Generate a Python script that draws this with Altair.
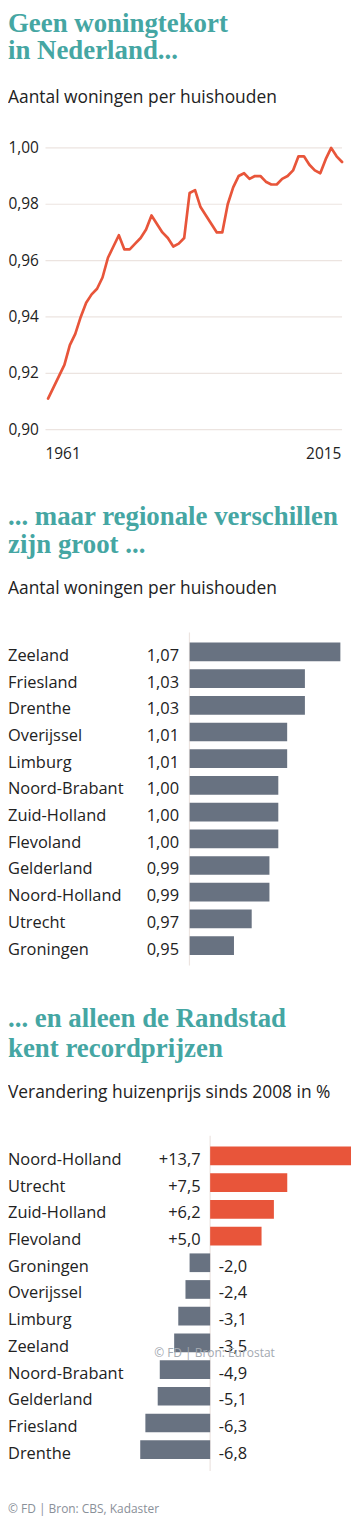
import altair as alt
import pandas as pd

# ---------------- data ----------------
years = list(range(1961, 2016))
ratio = [0.911, 0.915, 0.919, 0.923, 0.930, 0.934, 0.940, 0.945, 0.948, 0.950,
         0.954, 0.961, 0.965, 0.969, 0.964, 0.964, 0.966, 0.968, 0.971, 0.976,
         0.973, 0.970, 0.968, 0.965, 0.966, 0.968, 0.984, 0.985, 0.979, 0.976,
         0.973, 0.970, 0.970, 0.980, 0.986, 0.990, 0.991, 0.989, 0.990, 0.990,
         0.988, 0.987, 0.987, 0.989, 0.990, 0.992, 0.997, 0.997, 0.994, 0.992,
         0.991, 0.996, 1.000, 0.997, 0.995]
y_ticks = [0.90, 0.92, 0.94, 0.96, 0.98, 1.00]
x_tick_first = [1961]
x_tick_last = [2015]

prov1 = ["Zeeland", "Friesland", "Drenthe", "Overijssel", "Limburg", "Noord-Brabant",
         "Zuid-Holland", "Flevoland", "Gelderland", "Noord-Holland", "Utrecht", "Groningen"]
val1 = [1.07, 1.03, 1.03, 1.01, 1.01, 1.00, 1.00, 1.00, 0.99, 0.99, 0.97, 0.95]

prov2 = ["Noord-Holland", "Utrecht", "Zuid-Holland", "Flevoland", "Groningen", "Overijssel",
         "Limburg", "Zeeland", "Noord-Brabant", "Gelderland", "Friesland", "Drenthe"]
val2 = [13.7, 7.5, 6.2, 5.0, -2.0, -2.4, -3.1, -3.5, -4.9, -5.1, -6.3, -6.8]

title1 = ["Geen woningtekort", "in Nederland..."]
title2 = ["... maar regionale verschillen", "zijn groot ..."]
title3 = ["... en alleen de Randstad", "kent recordprijzen"]
sub1 = "Aantal woningen per huishouden"
sub2 = "Aantal woningen per huishouden"
sub3 = "Verandering huizenprijs sinds 2008 in %"
note3 = "© FD | Bron: Eurostat"
footer = "© FD | Bron: CBS, Kadaster"

# ---------------- styles ----------------
W, H = 346, 1511
TEAL = "#45a6a3"
ORANGE = "#e8553a"
SLATE = "#687281"
GRID = "#ece4e0"
INK = "#222222"
SANS = "Open Sans"
SERIF = "Liberation Serif"
LBL = 16.5


def text_layer(txt, x, y, size, font=SANS, weight="normal", color=INK,
               align="left", baseline="alphabetic"):
    return alt.Chart(pd.DataFrame({"t": [txt]})).mark_text(
        font=font, fontSize=size, fontWeight=weight, color=color,
        align=align, baseline=baseline
    ).encode(text="t:N", x=alt.value(x), y=alt.value(y))


def title_layers(lines, y1, y2, ysub, sub):
    return [
        text_layer(lines[0], 0, y1, 27, font=SERIF, weight="bold", color=TEAL),
        text_layer(lines[1], 0, y2, 27, font=SERIF, weight="bold", color=TEAL),
        text_layer(sub, 0, ysub, 17.5),
    ]


# ---------------- section 1: line ----------------
xs = alt.Scale(domain=[1961, 2015], range=[40.3, 336], zero=False, nice=False)
ys = alt.Scale(domain=[0.90, 1.00], range=[419.7, 136.3], zero=False, nice=False)

tick_df = pd.DataFrame({"v": y_ticks})
grid = alt.Chart(tick_df).mark_rule(color=GRID, strokeWidth=1.2).encode(
    y=alt.Y("v:Q", scale=ys, axis=None), x=alt.value(37.7), x2=alt.value(336))
ylab = alt.Chart(tick_df).transform_calculate(
    lab="replace(format(datum.v, '.2f'), '.', ',')"
).mark_text(align="right", baseline="middle", font=SANS, fontSize=15.5, color=INK).encode(
    y=alt.Y("v:Q", scale=ys, axis=None), x=alt.value(31), text="lab:N")
line = alt.Chart(pd.DataFrame({"year": years, "ratio": ratio})).mark_line(
    color=ORANGE, strokeWidth=2.7, strokeJoin="round", strokeCap="round"
).encode(x=alt.X("year:Q", scale=xs, axis=None), y=alt.Y("ratio:Q", scale=ys, axis=None))
xl1 = alt.Chart(pd.DataFrame({"yr": x_tick_first})).mark_text(
    align="left", baseline="middle", font=SANS, fontSize=15.5, color=INK, dx=-2.6
).encode(x=alt.X("yr:Q", scale=xs, axis=None), y=alt.value(444.7), text="yr:N")
xl2 = alt.Chart(pd.DataFrame({"yr": x_tick_last})).mark_text(
    align="right", baseline="middle", font=SANS, fontSize=15.5, color=INK, dx=-0.7
).encode(x=alt.X("yr:Q", scale=xs, axis=None), y=alt.value(444.7), text="yr:N")

sec1 = title_layers(title1, 19.3, 47, 91, sub1) + [grid, ylab, line, xl1, xl2]

# ---------------- section 2: bars ----------------
b1 = pd.DataFrame({"prov": prov1, "val": val1})
ys1 = alt.Scale(domain=prov1, range=[629.8, 952.1], paddingInner=0.3, paddingOuter=0.15)
xs1 = alt.Scale(domain=[0.90, 1.07], range=[182.7, 334.3], zero=False, nice=False)

axis1 = alt.Chart(pd.DataFrame({"a": [0]})).mark_rule(color=GRID, strokeWidth=1.2).encode(
    x=alt.value(182.5), y=alt.value(623.7), y2=alt.value(958.7))
bars1 = alt.Chart(b1).mark_bar(color=SLATE).encode(
    y=alt.Y("prov:N", scale=ys1, axis=None, sort=prov1),
    x=alt.X("val:Q", scale=xs1, axis=None), x2=alt.datum(0.90))
names1 = alt.Chart(b1).mark_text(align="left", baseline="alphabetic", dy=9,
                                 font=SANS, fontSize=LBL, color=INK).encode(
    y=alt.Y("prov:N", scale=ys1, axis=None, sort=prov1), x=alt.value(0), text="prov:N")
vals1 = alt.Chart(b1).transform_calculate(
    lab="replace(format(datum.val, '.2f'), '.', ',')"
).mark_text(align="right", baseline="alphabetic", dy=9, font=SANS, fontSize=LBL, color=INK).encode(
    y=alt.Y("prov:N", scale=ys1, axis=None, sort=prov1), x=alt.value(172), text="lab:N")

sec2 = title_layers(title2, 515.3, 543.7, 585.3, sub2) + [axis1, bars1, names1, vals1]

# ---------------- section 3: diverging bars ----------------
b2 = pd.DataFrame({"prov": prov2, "val": val2})
ys2 = alt.Scale(domain=prov2, range=[1136.8, 1459.1], paddingInner=0.3, paddingOuter=0.15)
xs2 = alt.Scale(domain=[-6.8, 13.7], range=[133, 345], zero=False, nice=False)
lab_expr = "(datum.val > 0 ? '+' : '-') + replace(format(abs(datum.val), '.1f'), '.', ',')"

axis2 = alt.Chart(pd.DataFrame({"a": [0]})).mark_rule(color=GRID, strokeWidth=1.2).encode(
    x=alt.value(203.3), y=alt.value(1130), y2=alt.value(1467))
bars2 = alt.Chart(b2).mark_bar().encode(
    y=alt.Y("prov:N", scale=ys2, axis=None, sort=prov2),
    x=alt.X("val:Q", scale=xs2, axis=None), x2=alt.datum(0),
    color=alt.condition("datum.val > 0", alt.value(ORANGE), alt.value(SLATE)))
names2 = alt.Chart(b2).mark_text(align="left", baseline="alphabetic", dy=9,
                                 font=SANS, fontSize=LBL, color=INK).encode(
    y=alt.Y("prov:N", scale=ys2, axis=None, sort=prov2), x=alt.value(0), text="prov:N")
vpos = alt.Chart(b2).transform_filter("datum.val > 0").transform_calculate(lab=lab_expr).mark_text(
    align="right", baseline="alphabetic", dy=9, font=SANS, fontSize=LBL, color=INK).encode(
    y=alt.Y("prov:N", scale=ys2, axis=None, sort=prov2), x=alt.value(193.7), text="lab:N")
vneg = alt.Chart(b2).transform_filter("datum.val <= 0").transform_calculate(lab=lab_expr).mark_text(
    align="left", baseline="alphabetic", dy=9, font=SANS, fontSize=LBL, color=INK).encode(
    y=alt.Y("prov:N", scale=ys2, axis=None, sort=prov2), x=alt.value(212), text="lab:N")
note = text_layer(note3, 147, 1348.7, 12, color="#a3a9b1", baseline="middle")
foot = text_layer(footer, 0, 1505, 12, color="#8a9099", baseline="middle")

sec3 = title_layers(title3, 1020.3, 1050.3, 1092, sub3) + [axis2, bars2, names2, vpos, vneg, note, foot]

chart = alt.layer(*(sec1 + sec2 + sec3)).resolve_scale(
    x="independent", y="independent"
).properties(
    width=W, height=H, padding=0, background="white",
    autosize=alt.AutoSizeParams(type="none")
).configure_view(strokeWidth=0)

chart.save("out.html", embed_options={"renderer": "svg", "actions": False})
